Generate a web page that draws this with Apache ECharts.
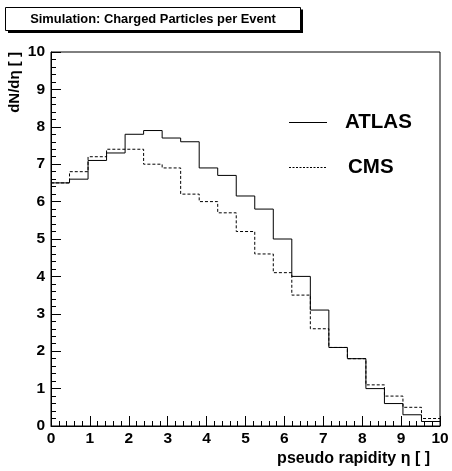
<!DOCTYPE html>
<html>
<head>
<meta charset="utf-8">
<script src="https://cdn.jsdelivr.net/npm/echarts@6/dist/echarts.min.js"></script>
<style>
html,body{margin:0;padding:0;background:#fff;}
#c{width:452px;height:471px;}
</style>
</head>
<body>
<div id="c"></div>
<script>
// ---- data ----
const chartTitle = 'Simulation: Charged Particles per Event';
const xTitle = 'pseudo rapidity \u03b7 [ ]';
const yTitle = 'dN/d\u03b7 [ ]';
const xRange = [0, 10];
const yRange = [0, 10];
const seriesNames = ['ATLAS', 'CMS'];
const atlas = [6.5, 6.6, 7.1, 7.3, 7.8, 7.9, 7.7, 7.6, 6.9, 6.7, 6.15, 5.8, 5.0, 4.0, 3.1, 2.1, 1.8, 1.0, 0.6, 0.3, 0.12];
const cms   = [6.5, 6.8, 7.2, 7.4, 7.4, 7.0, 6.9, 6.2, 6.0, 5.7, 5.2, 4.6, 4.1, 3.5, 2.6, 2.1, 1.8, 1.1, 0.8, 0.5, 0.2];

// histogram bins: equal width over the x range
function histPoints(vals) {
  const n = vals.length;
  const w = (xRange[1] - xRange[0]) / n;
  const pts = vals.map((v, i) => [xRange[0] + i * w, v]);
  pts.push([xRange[1], vals[n - 1]]);
  return pts;
}

const FONT = "'Liberation Sans', Arial, Helvetica, sans-serif";
const chart = echarts.init(document.getElementById('c'), null, {renderer: 'canvas'});

const axisCommon = {
  axisLine: {show: true, lineStyle: {color: '#000', width: 1}},
  axisTick: {show: true, inside: true, length: 10, lineStyle: {color: '#000', width: 1}},
  minorTick: {show: true, splitNumber: 5, length: 5, lineStyle: {color: '#000', width: 1}},
  splitLine: {show: false},
  minorSplitLine: {show: false}
};

chart.setOption({
  animation: false,
  backgroundColor: '#fff',
  grid: {left: 51, right: 12, top: 52, bottom: 45, show: true, borderColor: '#000', borderWidth: 1, backgroundColor: 'transparent'},
  xAxis: Object.assign({
    type: 'value', min: xRange[0], max: xRange[1], interval: 1,
    name: xTitle, nameLocation: 'end', nameGap: 0,
    nameTextStyle: {fontFamily: FONT, fontWeight: 'bold', fontSize: 16, color: '#000', align: 'right', verticalAlign: 'top', padding: [25, 10, 0, 0]},
    axisLabel: {fontFamily: FONT, fontWeight: 'bold', fontSize: 15.5, color: '#000', margin: 5}
  }, axisCommon),
  yAxis: Object.assign({
    type: 'value', min: yRange[0], max: yRange[1], interval: 1,
    name: yTitle, nameLocation: 'end', nameRotate: 90, nameGap: 0,
    nameTextStyle: {fontFamily: FONT, fontWeight: 'bold', fontSize: 15, color: '#000', align: 'right', verticalAlign: 'bottom', padding: [0, 0, 29, 0]},
    axisLabel: {fontFamily: FONT, fontWeight: 'bold', fontSize: 15.5, color: '#000', margin: 6}
  }, axisCommon),
  series: [
    {name: seriesNames[0], type: 'line', step: 'end', data: histPoints(atlas), symbol: 'none',
     lineStyle: {color: '#000', width: 1, type: 'solid'}, clip: true},
    {name: seriesNames[1], type: 'line', step: 'end', data: histPoints(cms), symbol: 'none',
     lineStyle: {color: '#000', width: 1, type: [3, 2]}, clip: true}
  ],
  graphic: [
    // title box with shadow
    {type: 'rect', shape: {x: 8, y: 9.5, width: 295, height: 23.5}, style: {fill: '#000'}},
    {type: 'rect', shape: {x: 5.5, y: 7.5, width: 295, height: 23}, style: {fill: '#fff', stroke: '#000', lineWidth: 1}},
    {type: 'text', x: 153, y: 19, style: {text: chartTitle, font: "bold 12.9px " + FONT, fill: '#000', textAlign: 'center', textVerticalAlign: 'middle'}},
    // legend
    {type: 'line', shape: {x1: 289, y1: 122.5, x2: 327, y2: 122.5}, style: {stroke: '#000', lineWidth: 1}},
    {type: 'text', x: 345, y: 122.5, style: {text: seriesNames[0], font: "bold 20.5px " + FONT, fill: '#000', textVerticalAlign: 'middle'}},
    {type: 'line', shape: {x1: 289, y1: 167.5, x2: 327, y2: 167.5}, style: {stroke: '#000', lineWidth: 1, lineDash: [2, 1.5]}},
    {type: 'text', x: 348, y: 167.5, style: {text: seriesNames[1], font: "bold 20.5px " + FONT, fill: '#000', textVerticalAlign: 'middle'}}
  ]
});
</script>
</body>
</html>
